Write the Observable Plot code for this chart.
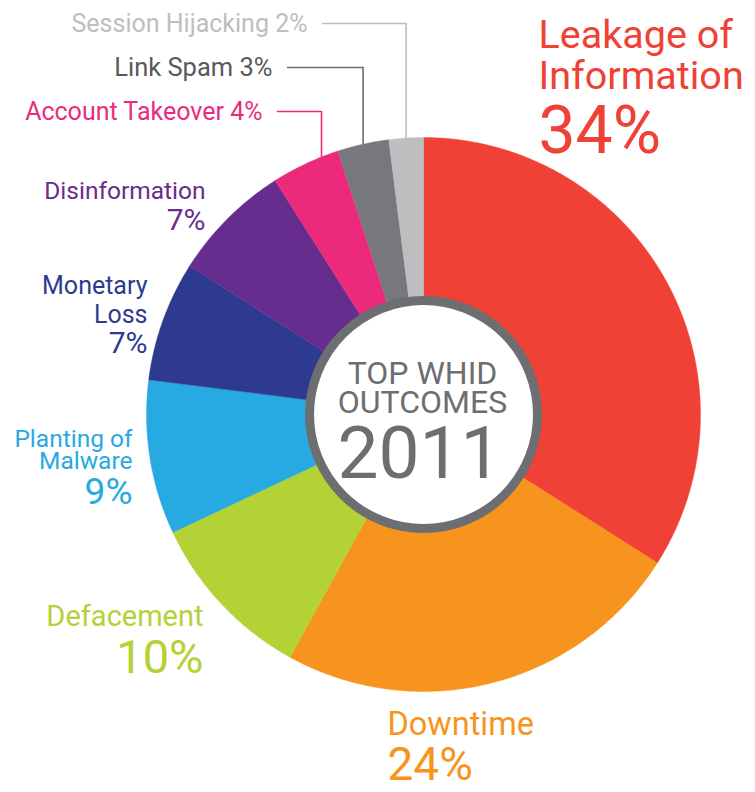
<!DOCTYPE html>
<html>
<head>
<meta charset="utf-8">
<script src="https://cdn.jsdelivr.net/npm/d3@7"></script>
<script src="https://cdn.jsdelivr.net/npm/@observablehq/plot@0.6"></script>
<style>
  html, body { margin: 0; padding: 0; background: #fff; }
  #chart svg { display: block; }
</style>
</head>
<body>
<div id="chart"></div>
<script>
// ---------- DATA ----------
const categories = ["Leakage of Information", "Downtime", "Defacement", "Planting of Malware",
  "Monetary Loss", "Disinformation", "Account Takeover", "Link Spam", "Session Hijacking"];
const shares = [34, 24, 10, 9, 7, 7, 4, 3, 2];
const nameLines = ["Leakage of\nInformation", "Downtime", "Defacement", "Planting of\nMalware",
  "Monetary\nLoss", "Disinformation", "Account Takeover", "Link Spam", "Session Hijacking"];
const sliceColors = ["#ef4136", "#f7941e", "#b3d236", "#27aae1", "#2e3a90", "#662d8f", "#ec2a7b", "#77787b", "#bcbec0"];
const textColors  = ["#ef4136", "#f7941e", "#b3d236", "#27aae1", "#2e3a90", "#662d8f", "#ec2a7b", "#58595b", "#bcbec0"];
const centerTitle = ["TOP WHID", "OUTCOMES"];
const centerYear = "2011";

// ---------- LAYOUT ----------
const W = 755, H = 792;
const cx = 423, cy = 414, R = 277, holeR = 114;
// label placement (pixels): text anchor x, baselines, font sizes
const labelLayout = [
  {anchor: "start", x: 538, nameY: 88,  pctY: 152, nameSize: 39.5, pctSize: 66, lh: 1.02},
  {anchor: "start", x: 387, nameY: 734, pctY: 779, nameSize: 32.5, pctSize: 46, lh: 1},
  {anchor: "end",   x: 203, nameY: 625, pctY: 672, nameSize: 29, pctSize: 47, lh: 1},
  {anchor: "end",   x: 132, nameY: 468, pctY: 503, nameSize: 24.5, pctSize: 37, lh: 0.88},
  {anchor: "end",   x: 147, nameY: 322, pctY: 352, nameSize: 25, pctSize: 30, lh: 1.15},
  {anchor: "end",   x: 205, nameY: 198, pctY: 229, nameSize: 24.5, pctSize: 30, lh: 1},
  {anchor: "end",   x: 262, nameY: 119, inline: true, nameSize: 25, attach: 0.75},
  {anchor: "end",   x: 272, nameY: 75,  inline: true, nameSize: 25.5, attach: 0.5},
  {anchor: "end",   x: 307, nameY: 31,  inline: true, nameSize: 25, attach: 0.5}
];
const leaderColors = [null, null, null, null, null, null, "#ec2a7b", "#6d6e71", "#bcbec0"];

// ---------- GEOMETRY from data ----------
const arcs = d3.pie().sort(null).startAngle(0).endAngle(2 * Math.PI)(shares);
const polar = (a, r) => [cx + r * Math.sin(a), cy - r * Math.cos(a)];

const sliceRows = [];
arcs.forEach((a, i) => {
  const cat = categories[i];
  sliceRows.push({cat, x: cx, y: cy});
  const n = Math.max(4, Math.ceil((a.endAngle - a.startAngle) / (Math.PI / 360)));
  for (let k = 0; k <= n; k++) {
    const t = a.startAngle + (a.endAngle - a.startAngle) * k / n;
    const [x, y] = polar(t, R);
    sliceRows.push({cat, x, y});
  }
  sliceRows.push({cat, x: cx, y: cy});
});

const marks = [];
marks.push(Plot.line(sliceRows, {x: "x", y: "y", z: "cat", fill: "cat", stroke: "cat", strokeWidth: 0.4, curve: "linear"}));

// leaders for small slices
arcs.forEach((a, i) => {
  const L = labelLayout[i];
  if (!L.inline) return;
  const t = a.startAngle + (a.endAngle - a.startAngle) * L.attach;
  const [ex, ey] = polar(t, R);
  const ly = L.nameY - 8;
  const pts = [{x: L.x + 15, y: ly}, {x: ex, y: ly}, {x: ex, y: ey}];
  marks.push(Plot.line(pts, {x: "x", y: "y", stroke: leaderColors[i], strokeWidth: 1.6}));
});

// labels
const fontFamily = "Roboto, 'Open Sans', sans-serif";
categories.forEach((c, i) => {
  const L = labelLayout[i];
  const pct = shares[i] + "%";
  if (L.inline) {
    marks.push(Plot.text([nameLines[i] + " " + pct], {
      x: () => L.x, y: () => L.nameY, text: d => d, textAnchor: L.anchor, lineAnchor: "bottom",
      fontSize: L.nameSize, fill: textColors[i], fontFamily
    }));
  } else {
    marks.push(Plot.text([nameLines[i]], {
      x: () => L.x, y: () => L.nameY, text: d => d, textAnchor: L.anchor, lineAnchor: "bottom",
      lineHeight: L.lh, fontSize: L.nameSize, fill: textColors[i], fontFamily
    }));
    marks.push(Plot.text([pct], {
      x: () => L.x, y: () => L.pctY, text: d => d, textAnchor: L.anchor, lineAnchor: "bottom",
      fontSize: L.pctSize, fill: textColors[i], fontFamily
    }));
  }
});

// center disk
marks.push(Plot.dot([{x: cx, y: cy}], {x: "x", y: "y", r: holeR, fill: "white", stroke: "#6d6e71", strokeWidth: 9}));
marks.push(Plot.text([centerTitle.join("\n")], {
  x: () => cx - 1, y: () => 412, text: d => d, lineAnchor: "bottom", lineHeight: 0.9,
  fontSize: 32, fill: "#6d6e71", fontFamily
}));
marks.push(Plot.text([centerYear], {
  x: () => cx - 4, y: () => 477, text: d => d, lineAnchor: "bottom",
  fontSize: 73, fill: "#6d6e71", fontFamily
}));

const chart = Plot.plot({
  width: W, height: H,
  margin: 0,
  x: {domain: [0, W], range: [0, W], axis: null},
  y: {domain: [0, H], range: [0, H], axis: null},
  color: {domain: categories, range: sliceColors},
  style: {background: "white"},
  marks
});
document.getElementById("chart").appendChild(chart);
</script>
</body>
</html>
